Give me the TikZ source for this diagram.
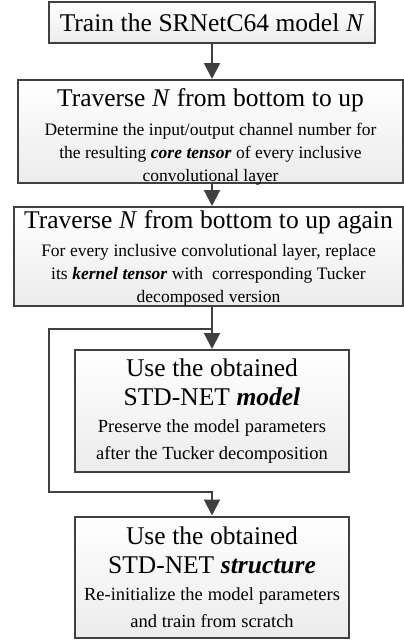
\documentclass[tikz,border=0pt]{standalone}
\usepackage{fontspec}
\setmainfont{Liberation Serif}
\usetikzlibrary{arrows.meta,shadows}
\definecolor{boxgray}{HTML}{404040}
\newcommand{\ttlfont}{\fontsize{25.5}{29}\selectfont\spaceskip=0.26em\relax}
\newcommand{\bdyfont}{\fontsize{17.5}{23}\selectfont\spaceskip=0.26em\relax}
\newcommand{\bdyfontb}{\fontsize{18.5}{27}\selectfont\spaceskip=0.26em\relax}
\newcommand{\bi}[1]{\textbf{\textit{#1}}}
\tikzset{
    stepbox/.style={draw=boxgray, line width=2pt, top color=white, bottom color=gray!15,
        align=center, inner sep=0pt,
        drop shadow={shadow xshift=1.2pt, shadow yshift=-1.2pt, opacity=0.35, fill=gray}},
    flow/.style={draw=boxgray, line width=2pt, -{Triangle[width=16pt,length=16pt]}},
    link/.style={draw=boxgray, line width=2pt}
}
\begin{document}
\begin{tikzpicture}[x=1pt, y=-1pt]
    \useasboundingbox (0,0) rectangle (404,641);
    \node[stepbox, minimum width=326pt, minimum height=41pt, text width=316pt] (train) at (212,22.5)
        {\ttlfont Train the SRNetC64 model \textit{N}};
    \node[stepbox, minimum width=385pt, minimum height=103pt, text width=375pt] (trav) at (210.5,131.5)
        {{\ttlfont Traverse \textit{N} from bottom to up\par}\vspace{6pt}
         {\bdyfont Determine the input/output channel number for\\
          the resulting \bi{core tensor} of every inclusive\\
          convolutional layer\par}\kern-10pt};
    \node[stepbox, minimum width=389pt, minimum height=99pt, text width=380pt] (again) at (208.5,256.5)
        {{\ttlfont Traverse \textit{N} from bottom to up again\par}\vspace{5pt}
         {\bdyfont For every inclusive convolutional layer, replace\\
          its \bi{kernel tensor} with\ \ corresponding Tucker\\
          decomposed version\par}\kern-4pt};
    \node[stepbox, minimum width=274pt, minimum height=122pt, text width=264pt] (usemodel) at (212,411)
        {{\ttlfont Use the obtained\\ STD-NET \bi{model}\par}
         {\bdyfontb Preserve the model parameters\\
          after the Tucker decomposition\par}};
    \node[stepbox, minimum width=274pt, minimum height=121pt, text width=264pt] (usestruct) at (212,577)
        {{\ttlfont Use the obtained\\ STD-NET \bi{structure}\par}
         {\bdyfontb Re-initialize the model parameters\\
          and train from scratch\par}};
    \coordinate (split) at (212,329);
    \coordinate (turn) at (49,492);
    \draw[flow] (train.south) -- (train.south |- trav.north);
    \draw[flow] (train.south |- trav.south) -- (train.south |- again.north);
    \draw[link] (train.south |- again.south) -- (split);
    \draw[flow] (split) -- (usemodel.north);
    \draw[flow] (split) -- (split -| turn) -- (turn) -- (turn -| usestruct) -- (usestruct.north);
\end{tikzpicture}
\end{document}
